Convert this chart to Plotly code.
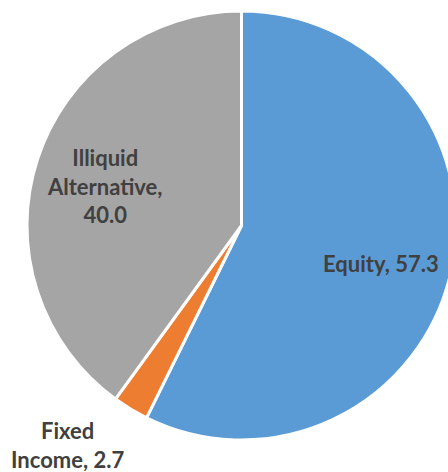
import math
import plotly.graph_objects as go

# Asset allocation (%)
categories = ["Equity", "Fixed Income", "Illiquid Alternative"]
values = [57.3, 2.7, 40.0]
colors = ["#5B9BD5", "#ED7D31", "#A5A5A5"]
label_lines = [["Equity, {v:.1f}"], ["Fixed", "Income, {v:.1f}"], ["Illiquid", "Alternative,", "{v:.1f}"]]

W, H = 462, 472
cx, cy, R = 241.5, 225.5, 214.5  # pie centre / radius in px

fig = go.Figure(go.Pie(
    labels=categories,
    values=values,
    marker=dict(colors=colors, line=dict(color="white", width=3)),
    sort=False,
    direction="clockwise",
    rotation=0,
    textinfo="none",
    hoverinfo="label+value",
    showlegend=False,
    domain=dict(x=[(cx - R) / W, (cx + R) / W], y=[1 - (cy + R) / H, 1 - (cy - R) / H]),
))

font = dict(family="Lato, sans-serif", size=22, color="#404040")
total = sum(values)
cum = 0.0
for name, v, lines in zip(categories, values, label_lines):
    mid = math.radians(90 - 360 * (cum + v / 2) / total)
    cum += v
    text = "<br>".join("<b>" + ln.format(v=v) + "</b>" for ln in lines)
    if v / total > 0.1:
        px = cx + 0.67 * R * math.cos(mid)
        py = cy - 0.67 * R * math.sin(mid) + 5
    else:
        px, py = 67, 445
    fig.add_annotation(x=px / W, y=1 - py / H, xref="paper", yref="paper",
                       text=text, showarrow=False, font=font, align="center",
                       xanchor="center", yanchor="middle")

fig.update_layout(
    width=W, height=H,
    margin=dict(l=0, r=0, t=0, b=0),
    paper_bgcolor="white", plot_bgcolor="white",
)

fig.write_html("out.html", post_script="document.body.style.overflow='hidden';document.documentElement.style.overflow='hidden';")
